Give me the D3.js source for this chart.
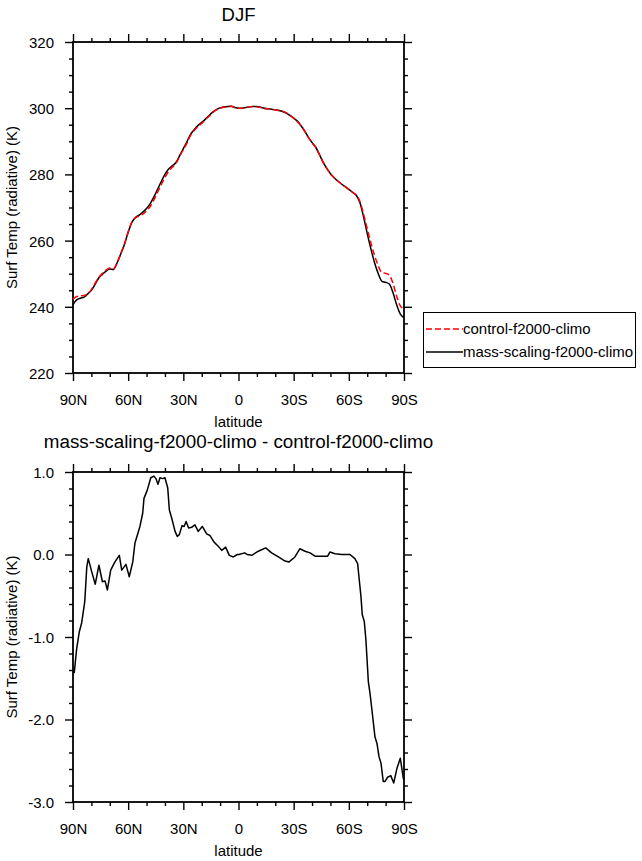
<!DOCTYPE html>
<html>
<head>
<meta charset="utf-8">
<script src="https://cdn.jsdelivr.net/npm/d3@7"></script>
<style>
  html, body { margin: 0; padding: 0; background: #fff; }
  svg { display: block; font-family: "Liberation Sans", Arial, Helvetica, sans-serif; }
</style>
</head>
<body>
<svg id="chart" width="642" height="861"></svg>
<script>
// ---------------- DATA ----------------
const seriesNames = ["control-f2000-climo", "mass-scaling-f2000-climo"];
const topTitle = "DJF";
const bottomTitle = "mass-scaling-f2000-climo - control-f2000-climo";
const xLabel = "latitude";
const yLabel = "Surf Temp (radiative) (K)";

const latTicks = [90, 60, 30, 0, -30, -60, -90];
const latTickLabels = ["90N", "60N", "30N", "0", "30S", "60S", "90S"];
const latMinor = [80, 70, 50, 40, 20, 10, -10, -20, -40, -50, -70, -80];

const topYTicks = [220, 240, 260, 280, 300, 320];
const topYMinor = [225, 230, 235, 245, 250, 255, 265, 270, 275, 285, 290, 295, 305, 310, 315];
const botYTicks = [-3, -2, -1, 0, 1];
const botYMinor = [-2.8, -2.6, -2.4, -2.2, -1.8, -1.6, -1.4, -1.2, -0.8, -0.6, -0.4, -0.2, 0.2, 0.4, 0.6, 0.8];

// latitude grid for the two temperature curves
const lat = [90, 88, 86, 84, 82, 80, 78, 76, 74, 72, 70, 68, 66, 64, 62, 60, 58, 56, 54, 52,
  50, 48, 46, 44, 42, 40, 38, 36, 34, 32, 30, 28, 26, 24, 22, 20, 18, 16, 14, 12,
  10, 8, 6, 4, 2, 0, -2, -4, -6, -8, -10, -12, -14, -16, -18, -20, -22, -24, -26, -28,
  -30, -32, -34, -36, -38, -40, -42, -44, -46, -48, -50, -52, -54, -56, -58, -60, -62, -64, -66, -68,
  -70, -72, -74, -76, -78, -80, -82, -84, -86, -88, -90];

const massScaling = [240.7, 242.1, 242.6, 242.9, 243.9, 245.0, 246.8, 248.7, 249.8, 250.8,
  251.4, 251.3, 253.3, 256.0, 258.9, 262.5, 265.5, 267.0, 267.7, 268.6,
  269.7, 271.2, 273.2, 275.5, 277.8, 280.0, 281.6, 282.6, 283.6, 285.7,
  287.8, 289.9, 292.2, 293.6, 294.8, 295.7, 296.7, 297.8, 298.8, 299.6,
  300.1, 300.4, 300.5, 300.6, 300.2, 300.0, 300.0, 300.2, 300.4, 300.5,
  300.5, 300.3, 300.0, 299.8, 299.7, 299.5, 299.3, 299.0, 298.5, 297.8,
  297.0, 296.1, 294.7, 293.1, 291.2, 289.6, 288.2, 286.0, 283.7, 281.8,
  280.2, 279.0, 278.0, 277.1, 276.3, 275.5, 274.6, 273.7, 271.5, 267.2,
  262.2, 257.5, 253.3, 250.0, 247.7, 247.4, 246.9, 244.3, 240.6, 237.8, 236.8];

const control = [242.3, 243.1, 243.3, 243.4, 244.0, 245.2, 247.1, 248.8, 250.1, 251.1,
  251.7, 251.5, 253.3, 256.1, 259.0, 262.6, 265.6, 266.9, 267.4, 268.0,
  269.0, 270.3, 272.3, 274.6, 276.9, 279.1, 280.9, 282.2, 283.3, 285.5,
  287.5, 289.5, 291.9, 293.3, 294.5, 295.4, 296.5, 297.6, 298.7, 299.5,
  300.0, 300.3, 300.4, 300.6, 300.2, 300.0, 300.0, 300.2, 300.4, 300.5,
  300.4, 300.2, 299.9, 299.8, 299.7, 299.5, 299.3, 299.1, 298.6, 297.9,
  297.0, 296.0, 294.7, 293.1, 291.2, 289.6, 288.2, 286.0, 283.7, 281.8,
  280.2, 279.0, 278.0, 277.1, 276.3, 275.5, 274.6, 273.8, 271.9, 268.0,
  263.6, 259.3, 255.5, 252.4, 250.3, 250.1, 249.6, 247.1, 243.2, 240.3, 239.4];

// difference curve (mass-scaling minus control)
const diffLat = [90, 89.3, 88, 86.6, 85.3, 83.6, 82.5, 81.7, 79.8, 77.9, 75.9, 74, 72.6, 71.3,
  69.5, 67.2, 64.8, 63.5, 61.2, 59.4, 57.5, 56.3, 53.6, 52.1, 51.4, 49.6, 47.7, 46,
  44.9, 43.8, 42.7, 41.2, 40, 38.5, 37.6, 36.3, 34.5, 33.3, 32.2, 30.7, 29.6, 28.5,
  27.1, 25.5, 23.7, 21.9, 19.7, 17.3, 15.5, 13.3, 11, 9.1, 7, 5, 2.8, 0.6,
  -0.2, -3.4, -4.7, -7.2, -10.8, -14.8, -18, -21.7, -25.3, -27.5, -30.7, -33.4, -36.2,
  -38.9, -41.6, -45.3, -48.5, -49.7, -52.5, -56.1, -60.6, -63.3, -64.8, -65.5, -66.6,
  -67.3, -68.4, -69.3, -70.6, -71.5, -72.8, -74.2, -75.3, -76.4, -77.5, -78.7, -79.7,
  -81.1, -82.8, -84.4, -86.2, -88, -89.6, -90];
const diffVal = [-1.42, -1.43, -1.14, -0.94, -0.83, -0.57, -0.15, -0.05, -0.21, -0.36, -0.13, -0.33, -0.32, -0.43,
  -0.19, -0.09, -0.01, -0.19, -0.12, -0.27, -0.09, 0.14, 0.34, 0.50, 0.68, 0.78, 0.93, 0.95,
  0.92, 0.85, 0.93, 0.92, 0.93, 0.81, 0.54, 0.44, 0.28, 0.22, 0.24, 0.35, 0.34, 0.40,
  0.32, 0.33, 0.36, 0.28, 0.34, 0.25, 0.23, 0.15, 0.10, 0.05, 0.09, -0.01, -0.03, 0.00,
  0.00, 0.02, 0.00, -0.01, 0.04, 0.08, 0.02, -0.03, -0.08, -0.09, -0.03, 0.07, 0.04,
  0.02, -0.02, -0.02, -0.02, 0.03, 0.01, 0.00, 0.00, -0.05, -0.11, -0.27, -0.51,
  -0.73, -0.81, -1.04, -1.54, -1.68, -1.93, -2.21, -2.29, -2.45, -2.53, -2.75, -2.75,
  -2.70, -2.68, -2.77, -2.59, -2.47, -2.71, -2.73];

// ---------------- LAYOUT ----------------
const svg = d3.select("#chart");
const FONT = 15;
const plotL = 73, plotR = 404;
const topPanel = { t: 42, b: 373 };
const botPanel = { t: 472, b: 802 };

const x = d3.scaleLinear().domain([90, -90]).range([plotL, plotR]);

function drawPanel(panel, yScale, yTicks, yMinor, yFmt, title, titleY, titleSize) {
  const g = svg.append("g");
  const w = plotR - plotL, h = panel.b - panel.t;

  // axes (outward ticks on all four sides)
  const mk = (axisFn, scale, vals, size, fmt) => axisFn(scale).tickValues(vals).tickSize(size).tickSizeOuter(0).tickFormat(fmt);
  const addAxis = (axis, tx, ty) => {
    const a = g.append("g").attr("transform", `translate(${tx},${ty})`).call(axis);
    a.select(".domain").remove();
    a.selectAll(".tick line").attr("stroke", "#000").attr("stroke-width", 1.4);
    a.selectAll(".tick text").attr("fill", "#000").attr("font-size", FONT);
    return a;
  };
  const xFmt = d => latTickLabels[latTicks.indexOf(d)];
  const bx = addAxis(mk(d3.axisBottom, x, latTicks, 8, xFmt), 0, panel.b);
  bx.selectAll(".tick text").attr("y", 0).attr("dy", 0).attr("transform", "translate(0,32)");
  addAxis(mk(d3.axisBottom, x, latMinor, 4, ""), 0, panel.b);
  addAxis(mk(d3.axisTop, x, latTicks, 8, ""), 0, panel.t);
  addAxis(mk(d3.axisTop, x, latMinor, 4, ""), 0, panel.t);
  const ly = addAxis(mk(d3.axisLeft, yScale, yTicks, 8, yFmt), plotL, 0);
  ly.selectAll(".tick text").attr("x", -19).attr("dy", "0.36em");
  addAxis(mk(d3.axisLeft, yScale, yMinor, 4, ""), plotL, 0);
  addAxis(mk(d3.axisRight, yScale, yTicks, 8, ""), plotR, 0);
  addAxis(mk(d3.axisRight, yScale, yMinor, 4, ""), plotR, 0);

  // frame
  g.append("rect").attr("x", plotL).attr("y", panel.t).attr("width", w).attr("height", h)
    .attr("fill", "none").attr("stroke", "#000").attr("stroke-width", 1.8);

  // titles and labels
  g.append("text").attr("x", (plotL + plotR) / 2).attr("y", titleY)
    .attr("text-anchor", "middle").attr("font-size", titleSize).text(title);
  g.append("text").attr("x", (plotL + plotR) / 2).attr("y", panel.b + 53.5)
    .attr("text-anchor", "middle").attr("font-size", FONT).text(xLabel);
  g.append("text").attr("transform", `translate(17,${(panel.t + panel.b) / 2}) rotate(-90)`)
    .attr("text-anchor", "middle").attr("font-size", FONT).text(yLabel);
  return g;
}

// ---------------- TOP PANEL ----------------
const yTop = d3.scaleLinear().domain([220, 320]).range([topPanel.b, topPanel.t]);
const gTop = drawPanel(topPanel, yTop, topYTicks, topYMinor, d => String(d), topTitle, 21, 18.5);

const lineTop = d3.line().x(d => x(d[0])).y(d => yTop(d[1])).curve(d3.curveMonotoneX);
gTop.append("path").datum(d3.zip(lat, massScaling))
  .attr("d", lineTop).attr("fill", "none").attr("stroke", "#000").attr("stroke-width", 1.5);
gTop.append("path").datum(d3.zip(lat, control))
  .attr("d", lineTop).attr("fill", "none").attr("stroke", "#ff0000").attr("stroke-width", 1.5)
  .attr("stroke-dasharray", "6,3");

// legend
const leg = svg.append("g");
leg.append("rect").attr("x", 423.5).attr("y", 312.5).attr("width", 212).attr("height", 55)
  .attr("fill", "#fff").attr("stroke", "#000").attr("stroke-width", 1);
const legendItems = [
  { name: seriesNames[0], color: "#ff0000", dash: "6,3", y: 329 },
  { name: seriesNames[1], color: "#000", dash: null, y: 352 }
];
legendItems.forEach(it => {
  leg.append("line").attr("x1", 426).attr("x2", 463).attr("y1", it.y).attr("y2", it.y)
    .attr("stroke", it.color).attr("stroke-width", 1.5).attr("stroke-dasharray", it.dash);
  leg.append("text").attr("x", 463).attr("y", it.y).attr("dy", "0.35em")
    .attr("font-size", FONT).text(it.name);
});

// ---------------- BOTTOM PANEL ----------------
const yBot = d3.scaleLinear().domain([-3, 1]).range([botPanel.b, botPanel.t]);
const gBot = drawPanel(botPanel, yBot, botYTicks, botYMinor, d => d.toFixed(1), bottomTitle, 448, 18.8);

const lineBot = d3.line().x(d => x(d[0])).y(d => yBot(d[1]));
gBot.append("path").datum(d3.zip(diffLat, diffVal))
  .attr("d", lineBot).attr("fill", "none").attr("stroke", "#000").attr("stroke-width", 1.5)
  .attr("stroke-linejoin", "round");
</script>
</body>
</html>
